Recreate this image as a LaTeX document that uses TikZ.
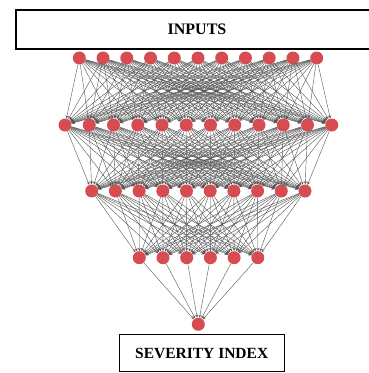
\documentclass[tikz,border=0pt]{standalone}
\usepackage{amsmath,amssymb}
\usepackage{fontspec}
\setmainfont{Liberation Serif}
\usepackage{xcolor}
\usepackage{tikz}
\usetikzlibrary{positioning,shapes,arrows}

\definecolor{nodered}{RGB}{214,76,80}
\definecolor{edgegray}{RGB}{85,85,85}

\begin{document}
\begin{tikzpicture}
            [x=1pt,y=-1pt,>=stealth,every node/.style={circle, fill=nodered, inner sep = 0pt, minimum width = 13pt}]
            \useasboundingbox (0,0) rectangle (369,373);

            % text boxes
            \node[rectangle, draw, fill=white, line width=1.2pt, minimum width=362pt, minimum height=39pt, font=\fontsize{16}{18}\selectfont\bfseries] (inputs) at (197,29.5) {INPUTS\hspace{6pt}};
            \node[rectangle, draw, fill=white, line width=1.2pt, minimum width=165pt, minimum height=37pt, font=\fontsize{15.5}{18}\selectfont\bfseries] (severity) at (201.7,353) {SEVERITY INDEX};

            % layers
            \foreach \i in {1,...,11}
            \node (a\i) at ({79.3+23.74*(\i-1)},58) {};
            \foreach \i in {1,...,12}
            \node (b\i) at ({65+24.25*(\i-1)},125) {};
            \foreach \i in {1,...,10}
            \node (c\i) at ({91.7+23.7*(\i-1)},191) {};
            \foreach \i in {1,...,6}
            \node (d\i) at ({139.3+23.7*(\i-1)},257.7) {};
            \node (out) at (198.3,324.3) {};

            \foreach \from in {1,...,11}
            \foreach \to in {1,...,12}
            \draw[->, edgegray, line width=0.4pt] (a\from) -- (b\to);
            \foreach \from in {1,...,12}
            \foreach \to in {1,...,10}
            \draw[->, edgegray, line width=0.4pt] (b\from) -- (c\to);
            \foreach \from in {1,...,10}
            \foreach \to in {1,...,6}
            \draw[->, edgegray, line width=0.4pt] (c\from) -- (d\to);
            \foreach \from in {1,...,6}
            \draw[->, edgegray, line width=0.4pt] (d\from) -- (out);
          \end{tikzpicture}
\end{document}
